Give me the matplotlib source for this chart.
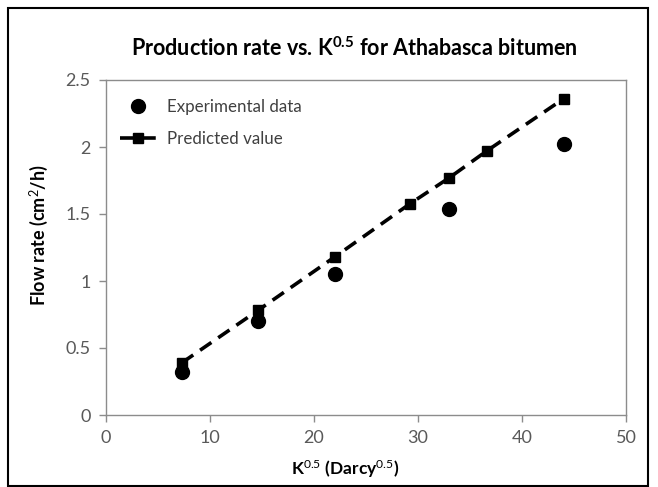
import matplotlib
matplotlib.use("Agg")
import matplotlib.pyplot as plt
from matplotlib.patches import Rectangle

plt.rcParams['font.family'] = ['Lato', 'DejaVu Sans']
plt.rcParams['mathtext.fontset'] = 'custom'
plt.rcParams['mathtext.rm'] = 'Lato'
plt.rcParams['mathtext.it'] = 'Lato:italic'
plt.rcParams['mathtext.bf'] = 'Lato:bold'

# Square root of permeability (Darcy^0.5) and flow rates (cm^2/h)
k_exp = [7.3, 14.6, 22.0, 33.0, 44.0]
rate_exp = [0.32, 0.70, 1.05, 1.54, 2.02]

k_pred = [7.3, 14.6, 22.0, 29.2, 33.0, 36.6, 44.0]
rate_pred = [0.39, 0.78, 1.18, 1.575, 1.77, 1.97, 2.36]

x_ticks = [0, 10, 20, 30, 40, 50]
y_ticks = [0, 0.5, 1, 1.5, 2, 2.5]
y_tick_labels = ['0', '0.5', '1', '1.5', '2', '2.5']

W, H = 658, 487
fig = plt.figure(figsize=(W / 100, H / 100), dpi=100)
ax = fig.add_axes([106 / W, 1 - 415 / H, 520 / W, 335 / H])

ax.plot(k_exp, rate_exp, linestyle='none', marker='o', markersize=10,
        color='black', label='Experimental data')
ax.plot(k_pred, rate_pred, linestyle=(0, (3.8, 2.3)), linewidth=2.6,
        marker='s', markersize=7.5, color='black', label='Predicted value')

ax.set_xlim(0, 50)
ax.set_ylim(0, 2.5)
ax.set_xticks(x_ticks)
ax.set_yticks(y_ticks)
ax.set_yticklabels(y_tick_labels)

axis_gray = '#8c8c8c'
for s in ax.spines.values():
    s.set_color(axis_gray)
    s.set_linewidth(1.0)
ax.tick_params(direction='out', length=5, width=1.0, color=axis_gray,
               labelsize=13, labelcolor='#595959', pad=6)

ax.set_xlabel('K$^{0.5}$ (Darcy$^{0.5}$)', fontsize=12.5, fontweight='bold')
ax.xaxis.set_label_coords(0.46, -0.128)
ax.set_ylabel('Flow rate (cm$^{2}$/h)', fontsize=13, fontweight='bold')
ax.yaxis.set_label_coords(-0.108, 0.537)
fig.text(354 / W, 1 - 48 / H,
         r'Production rate vs. K$^{\mathbf{0.5}}$ for Athabasca bitumen',
         ha='center', va='center', fontsize=15.5, fontweight='bold')

leg = ax.legend(loc='upper left', bbox_to_anchor=(0.0, 0.985), frameon=False,
                fontsize=12.2, handlelength=2.2, handletextpad=0.6,
                labelspacing=0.95, borderaxespad=0.4)
for t in leg.get_texts():
    t.set_color('#404040')

# Outer chart border
fig.patches.append(Rectangle((8 / W, 1 / H), 640 / W, 478 / H,
                             transform=fig.transFigure, fill=False,
                             edgecolor='black', linewidth=1.5))

fig.savefig('out.png', dpi=100)
